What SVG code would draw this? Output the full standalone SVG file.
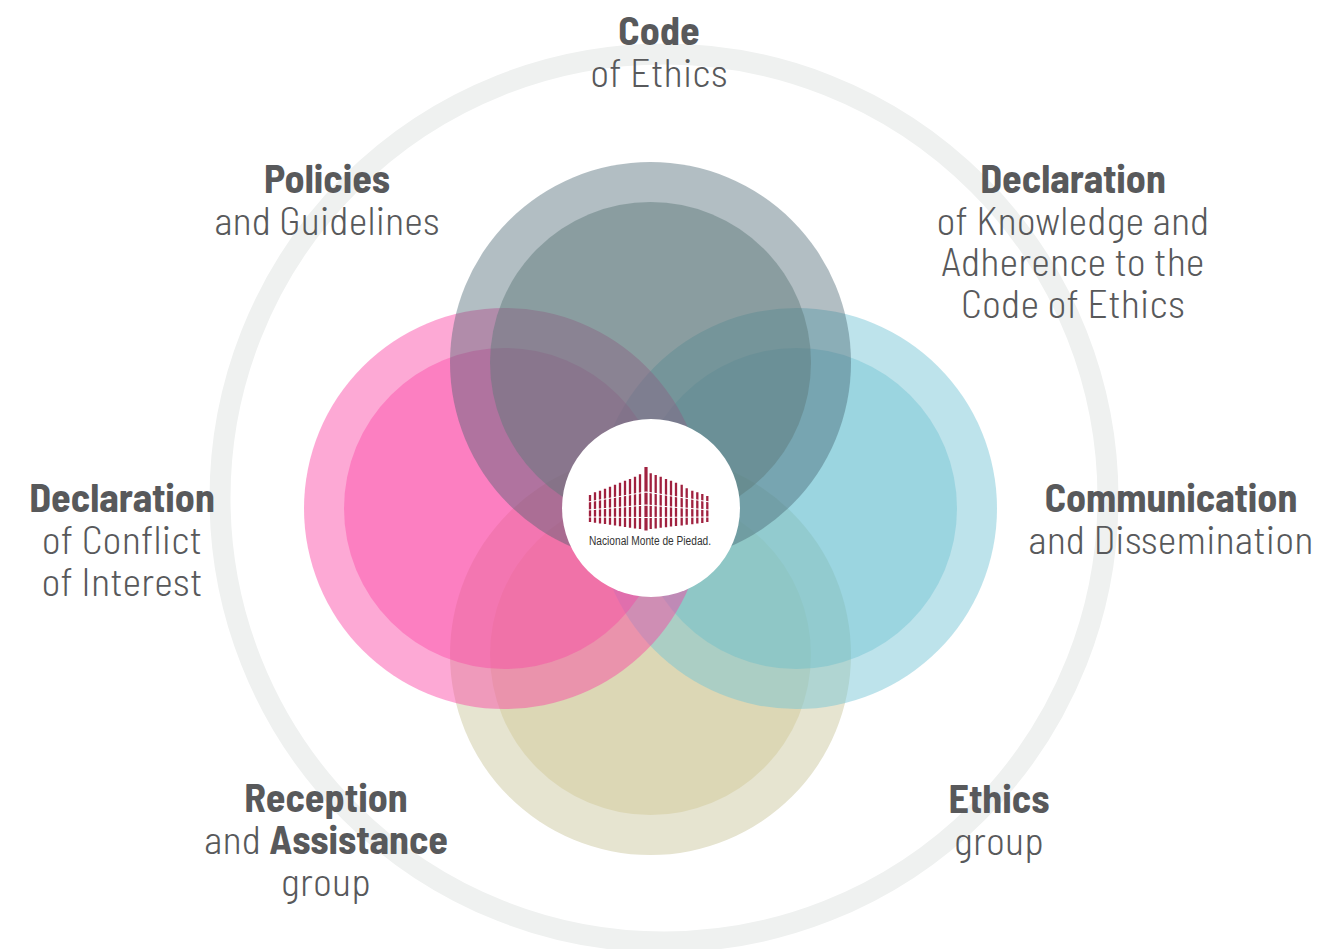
<svg xmlns="http://www.w3.org/2000/svg" width="1320" height="949" viewBox="0 0 1320 949">
<style>
text{font-family:"Barlow Semi Condensed","Barlow Condensed","Liberation Sans",sans-serif;font-size:40px;fill:#58595b;text-anchor:middle;font-weight:300;letter-spacing:.2px}
.b,tspan.b{font-weight:700;letter-spacing:0}
text.logo{font-family:"Liberation Sans",sans-serif;font-size:12px;fill:#333;text-anchor:start;font-weight:400;letter-spacing:0}
.bars{fill:none;stroke:#a0213f;stroke-width:2.3}
.rows{fill:none;stroke:#fff;stroke-width:1.1}
</style>
<rect width="1320" height="949" fill="#fff"/>
<g id="ring"><circle cx="664" cy="498" r="444" fill="none" stroke="#eff1f0" stroke-width="21"/></g>
<g id="sand"><circle cx="650.5" cy="654.5" r="200.5" fill="#e6e4d0"/><circle cx="650.5" cy="654.5" r="160.5" fill="#dcd7b5"/></g>
<g id="blue"><circle cx="796.5" cy="508.5" r="200.5" fill="#75c5d5" fill-opacity=".48"/><circle cx="796.5" cy="508.5" r="160.5" fill="#5cbbcb" fill-opacity=".35"/></g>
<g id="pink"><circle cx="504.5" cy="508.5" r="200.5" fill="#fb40a2" fill-opacity=".45"/><circle cx="504.5" cy="508.5" r="160.5" fill="#fb40a2" fill-opacity=".4"/></g>
<g id="grey"><circle cx="650.5" cy="362.5" r="200.5" fill="#46636e" fill-opacity=".415"/><circle cx="650.5" cy="362.5" r="160.5" fill="#5e797a" fill-opacity=".47"/></g>
<g id="center"><circle cx="651" cy="508" r="89" fill="#fff"/>
<path class="bars" d="M590 495V522M595 492.3V522.7M600 490.7V523.4M605 488.7V524M610 486.7V524.8M615 484.7V525.5M620 482.7V526.2M625 480.7V527M630 479V527.7M635 476.7V528.4M640 474.3V529M650.7 473.3V529M655.7 475V528.4M660.7 476.7V527.8M666 479V527.2M671 480.7V526.6M676 482.7V526M681.7 484.7V525.4M686.7 488.3V524.8M692.3 490.7V524.2M697.3 492.3V523.6M702.3 494V523M707.3 496V522"/>
<path class="bars" style="stroke-width:3.2" d="M646 467V530.5"/>
<path class="rows" d="M588 502L646 492L710 502M588 510L646 505L710 510M588 517L646 517.500L710 517"/>
<text class="logo" x="589" y="545" textLength="122" lengthAdjust="spacingAndGlyphs">Nacional Monte de Piedad.</text></g>
<g id="n1"><text x="659" y="45" class="b">Code</text><text x="659" y="87">of Ethics</text></g>
<g id="n2"><text x="1073" y="193" class="b">Declaration</text><text x="1073" y="235">of Knowledge and</text><text x="1073" y="276">Adherence to the</text><text x="1073" y="318">Code of Ethics</text></g>
<g id="n3"><text x="1171" y="512" class="b">Communication</text><text x="1171" y="554">and Dissemination</text></g>
<g id="n4"><text x="999" y="813" class="b">Ethics</text><text x="999" y="855">group</text></g>
<g id="n5"><text x="326" y="812" class="b">Reception</text><text x="326" y="854">and <tspan class="b">Assistance</tspan></text><text x="326" y="896">group</text></g>
<g id="n6"><text x="122" y="512" class="b">Declaration</text><text x="122" y="554">of Conflict</text><text x="122" y="596">of Interest</text></g>
<g id="n7"><text x="327" y="193" class="b">Policies</text><text x="327" y="235">and Guidelines</text></g>
</svg>
